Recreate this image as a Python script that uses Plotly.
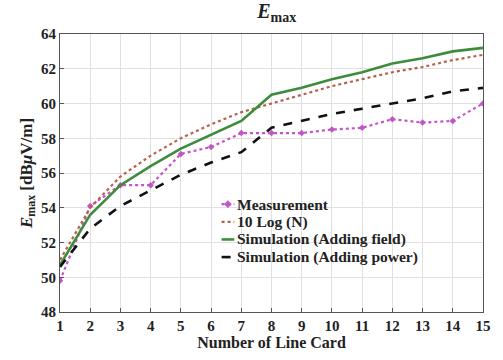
import plotly.graph_objects as go

line_cards = list(range(1, 16))
measurement = [49.8, 54.1, 55.3, 55.3, 57.1, 57.5, 58.3, 58.3, 58.3, 58.5, 58.6, 59.1, 58.9, 59.0, 60.0]
ten_log_n = [51.0, 54.0, 55.8, 57.0, 58.0, 58.8, 59.5, 60.0, 60.5, 61.0, 61.4, 61.8, 62.1, 62.5, 62.8]
sim_field = [50.7, 53.6, 55.3, 56.4, 57.4, 58.2, 59.0, 60.5, 60.9, 61.4, 61.8, 62.3, 62.6, 63.0, 63.2]
sim_power = [50.6, 52.8, 54.1, 55.0, 55.9, 56.6, 57.2, 58.6, 59.0, 59.4, 59.7, 60.0, 60.3, 60.7, 60.9]

y_ticks = [48, 50, 52, 54, 56, 58, 60, 62, 64]

FONT = "Liberation Serif"

series = [
    ("Measurement", measurement, dict(color="#c455c8", width=2.2, dash="dot"), True),
    ("10 Log (N)", ten_log_n, dict(color="#b8604f", width=2.2, dash="dot"), False),
    ("Simulation (Adding field)", sim_field, dict(color="#3c8c3c", width=2.6), False),
    ("Simulation (Adding power)", sim_power, dict(color="#111111", width=2.6, dash="dash"), False),
]

fig = go.Figure()
for name, values, line, with_markers in series:
    fig.add_trace(go.Scatter(
        x=line_cards, y=values, name=name,
        mode="lines+markers" if with_markers else "lines",
        line=line,
        marker=dict(symbol="diamond", size=5, color=line["color"]),
        showlegend=False,
    ))

# compact legend drawn in paper coordinates (tight row spacing)
legend_top = 0.388
row_step = 0.0635
sample_x0, sample_x1, text_x = 0.382, 0.412, 0.414
for i, (name, values, line, with_markers) in enumerate(series):
    yy = legend_top - i * row_step
    fig.add_shape(type="line", xref="paper", yref="paper",
                  x0=sample_x0, x1=sample_x1, y0=yy, y1=yy,
                  line=dict(color=line["color"], width=line["width"],
                            dash=line.get("dash", "solid")))
    if with_markers:
        xm = (sample_x0 + sample_x1) / 2
        dx, dy = 0.008, 0.012
        fig.add_shape(type="path", xref="paper", yref="paper",
                      path=f"M {xm - dx} {yy} L {xm} {yy + dy} L {xm + dx} {yy} L {xm} {yy - dy} Z",
                      fillcolor=line["color"], line=dict(color=line["color"], width=1))
    fig.add_annotation(xref="paper", yref="paper", x=text_x, y=yy,
                       xanchor="left", yanchor="middle", showarrow=False,
                       text=f"<b>{name}</b>",
                       font=dict(size=15.5, family=FONT, color="#222222"))

fig.update_layout(
    width=503, height=360,
    margin=dict(l=60, r=17, t=34, b=48),
    paper_bgcolor="white", plot_bgcolor="white",
    font=dict(family=FONT, color="#222222", size=14),
    title=dict(text="<b><i>E</i></b><sub><b>max</b></sub>", x=0.55, xanchor="center",
               y=0.99, yanchor="top", font=dict(size=20, family=FONT)),
    showlegend=False,
    xaxis=dict(
        range=[1, 15], tickmode="array", tickvals=line_cards,
        ticktext=[f"<b>{v}</b>" for v in line_cards],
        showgrid=True, gridcolor="#e0e0e0", gridwidth=1,
        showline=True, linecolor="#555555", linewidth=1, mirror=True,
        ticks="inside", ticklen=4, tickcolor="#555555",
        tickfont=dict(size=15, family=FONT),
        title=dict(text="<b>Number of Line Card</b>", font=dict(size=16, family=FONT), standoff=2),
        zeroline=False,
    ),
    yaxis=dict(
        range=[48, 64], tickmode="array", tickvals=y_ticks,
        ticktext=[f"<b>{v}</b>" for v in y_ticks],
        showgrid=True, gridcolor="#e0e0e0", gridwidth=1,
        showline=True, linecolor="#555555", linewidth=1, mirror=True,
        ticks="inside", ticklen=4, tickcolor="#555555",
        tickfont=dict(size=15, family=FONT),
        title=dict(text="<b><i>E</i></b><sub><b>max</b></sub><b> [dB<i>μ</i>V/m]</b>",
                   font=dict(size=17, family=FONT), standoff=4),
        zeroline=False,
    ),
)

fig.write_html("out.html")
